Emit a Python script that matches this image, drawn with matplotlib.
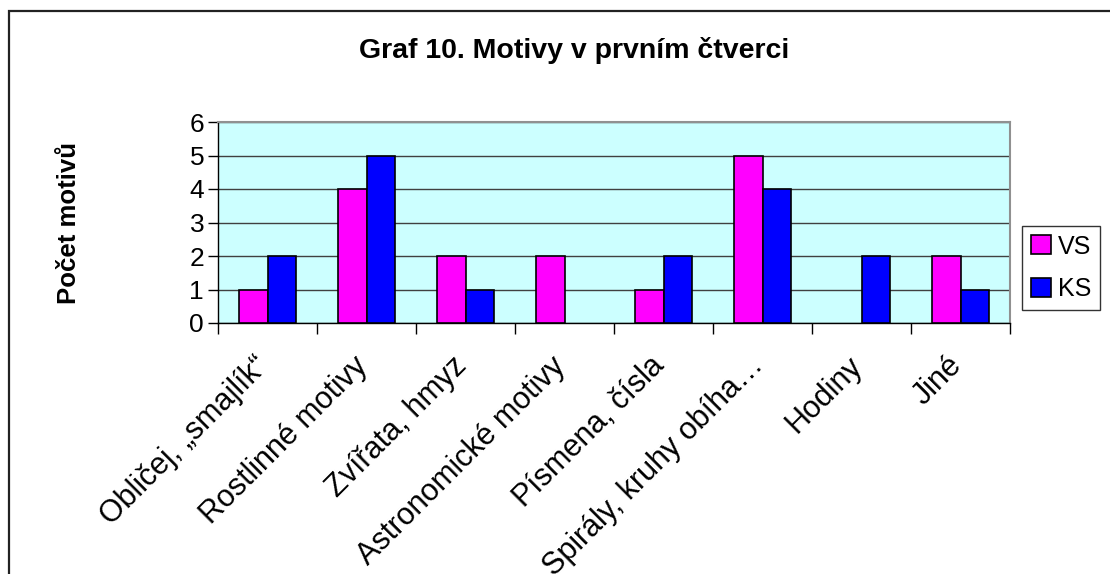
import matplotlib
matplotlib.use('Agg')
import matplotlib.pyplot as plt
import matplotlib.transforms as mtransforms
import numpy as np
from matplotlib.patches import Rectangle

plt.rcParams['font.family'] = ['Liberation Sans', 'DejaVu Sans']

categories = ['Obličej, „smajlík“', 'Rostlinné motivy', 'Zvířata, hmyz', 'Astronomické motivy',
              'Písmena, čísla', 'Spirály, kruhy obíha…', 'Hodiny', 'Jiné']
vs_values = [1, 4, 2, 2, 1, 5, 0, 2]
ks_values = [2, 5, 1, 0, 2, 4, 2, 1]
series_names = ['VS', 'KS']

fig = plt.figure(figsize=(11.1, 5.74), dpi=100)

# outer chart frame (only top and left visible in the crop)
fig.patches.append(Rectangle((9 / 1110, -0.2), 1.2, 0.2 + 1 - 11 / 574,
                             transform=fig.transFigure, fill=False,
                             edgecolor='#222222', linewidth=1.6))

ax = fig.add_axes([218 / 1110, 1 - 323 / 574, 792 / 1110, 201 / 574])
ax.set_facecolor('#CCFFFF')

x = np.arange(len(categories))
w = 0.2857
# zero-height bars get no outline, like in the original
lw_vs = [1.2 if v > 0 else 0 for v in vs_values]
lw_ks = [1.2 if v > 0 else 0 for v in ks_values]
ax.bar(x - w / 2, vs_values, w, color='#FF00FF', edgecolor='black', linewidth=lw_vs,
       label=series_names[0], zorder=3)
ax.bar(x + w / 2, ks_values, w, color='#0000FF', edgecolor='black', linewidth=lw_ks,
       label=series_names[1], zorder=3)

ax.set_xlim(-0.5, len(categories) - 0.5)
ax.set_ylim(0, 6)
ax.set_yticks(range(0, 7))
ax.yaxis.grid(True, color='#404040', linewidth=1.0, zorder=1)
ax.set_axisbelow(True)

ax.set_xticks(np.arange(-0.5, len(categories), 1))
ax.set_xticklabels([])
ax.set_xticks(x, minor=True)
ax.set_xticklabels(categories, minor=True, rotation=45, ha='right', va='top',
                   rotation_mode='anchor', fontsize=22)
ax.tick_params(axis='x', which='minor', length=0, pad=20)
ax.tick_params(axis='x', which='major', length=8, width=1, color='black', direction='out')
ax.tick_params(axis='y', length=7, width=1, labelsize=19, pad=3)

shift = mtransforms.ScaledTranslation(-14 / 100, 0, fig.dpi_scale_trans)
for lab in ax.get_xticklabels(minor=True):
    lab.set_transform(lab.get_transform() + shift)

for s in ['top', 'right']:
    ax.spines[s].set_color('#909090')
    ax.spines[s].set_linewidth(1.5)
for s in ['left', 'bottom']:
    ax.spines[s].set_color('black')
    ax.spines[s].set_linewidth(1.0)

fig.text(574 / 1110, 1 - 50 / 574, 'Graf 10. Motivy v prvním čtverci', ha='center', va='center',
         fontsize=20.5, fontweight='bold')
fig.text(69 / 1110, 1 - 223 / 574, 'Počet motivů', ha='center', va='center', rotation=90,
         fontsize=18.5, fontweight='bold')

leg = fig.legend(loc='center', bbox_to_anchor=(1061 / 1110, 1 - 268 / 574), fontsize=18,
                 frameon=True, fancybox=False, edgecolor='black', handlelength=0.8,
                 handleheight=0.8, handletextpad=0.3, borderpad=0.35, labelspacing=0.75)
leg.get_frame().set_linewidth(1.0)

fig.savefig('out.png', dpi=100)
